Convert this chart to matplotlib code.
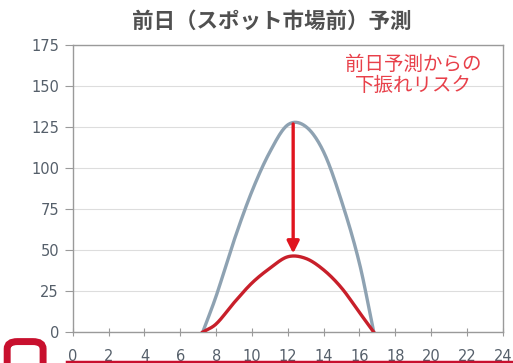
import matplotlib.pyplot as plt
import matplotlib.patches as patches
import numpy as np

plt.rcParams['font.family'] = ['Noto Sans CJK JP', 'DejaVu Sans']

# hour of day vs. output
hours = [7.25, 8, 9, 10, 11, 12, 13, 14, 15, 16, 16.8]
forecast = [0, 22, 56, 86, 110, 126.5, 125.5, 110, 80, 42, 0]
downside = [0, 5, 18, 30, 39, 46, 45, 38, 27, 12, 0]

xticks = list(range(0, 25, 2))
yticks = list(range(0, 176, 25))

title = '前日（スポット市場前）予測'
note = '前日予測からの\n下振れリスク'


def smooth(x, y, n=300):
    # cubic Hermite through the points, tangents from neighbours
    x = np.asarray(x, float)
    y = np.asarray(y, float)
    xs, ys = [], []
    for i in range(len(x) - 1):
        x0, x1 = x[i], x[i + 1]
        y0, y1 = y[i], y[i + 1]
        if i == 0:
            m0 = (y1 - y0) / (x1 - x0)
        else:
            m0 = (y1 - y[i - 1]) / (x1 - x[i - 1])
        if i == len(x) - 2:
            m1 = (y1 - y0) / (x1 - x0)
        else:
            m1 = (y[i + 2] - y0) / (x[i + 2] - x0)
        t = np.linspace(0, 1, n // len(x) + 2)
        h = x1 - x0
        h00 = 2 * t**3 - 3 * t**2 + 1
        h10 = t**3 - 2 * t**2 + t
        h01 = -2 * t**3 + 3 * t**2
        h11 = t**3 - t**2
        xs.append(x0 + t * h)
        ys.append(h00 * y0 + h10 * h * m0 + h01 * y1 + h11 * h * m1)
    return np.concatenate(xs), np.clip(np.concatenate(ys), 0, None)


fig = plt.figure(figsize=(5.13, 3.63), dpi=100)
ax = fig.add_axes([0.142, 0.085, 0.838, 0.79])

bx, by = smooth(hours, forecast)
rx, ry = smooth(hours, downside)
ax.plot(bx, by, color='#8ea2b2', lw=2.4, zorder=3)
ax.plot(rx, ry, color='#c81f2a', lw=2.4, zorder=3)

# arrow from forecast peak down to downside peak
ax.annotate('', xy=(12.3, max(downside) + 2), xytext=(12.3, max(by) - 1),
            arrowprops=dict(arrowstyle='-|>', color='#e0141e', lw=2.4,
                            mutation_scale=18, shrinkA=0, shrinkB=0), zorder=4)

ax.text(19.0, 157, note, ha='center', va='center',
        color='#e8404a', fontsize=14, linespacing=1.05)

ax.set_xlim(0, 24)
ax.set_ylim(0, 175)
ax.set_xticks(xticks)
ax.set_yticks(yticks)
ax.grid(axis='y', color='#dddddd', lw=0.8)
ax.set_axisbelow(True)
for s in ax.spines.values():
    s.set_color('#9a9a9a')
    s.set_linewidth(1.0)
for lab in ax.get_xticklabels() + ax.get_yticklabels():
    lab.set_family(['DejaVu Sans'])
ax.tick_params(axis='y', colors='#9a9a9a', labelcolor='#555f6a', labelsize=10.5,
               length=6, direction='out', pad=4)
ax.tick_params(axis='x', colors='#9a9a9a', labelcolor='#555f6a', labelsize=10.5,
               length=6, direction='inout', pad=9)

fig.text(0.53, 0.94, title, ha='center', va='center', fontsize=15.5,
         fontweight='bold', color='#505050')

# red footer line and logo mark
fig.add_artist(plt.Line2D([0.13, 1.0], [0.004, 0.004], color='#c8102e', lw=2.5))
fig.add_artist(patches.FancyBboxPatch((0.018, -0.06), 0.062, 0.115,
                                      boxstyle='round,pad=0.004,rounding_size=0.02',
                                      transform=fig.transFigure,
                                      fc='none', ec='#c8102e', lw=5))

fig.savefig('out.png', dpi=100)
